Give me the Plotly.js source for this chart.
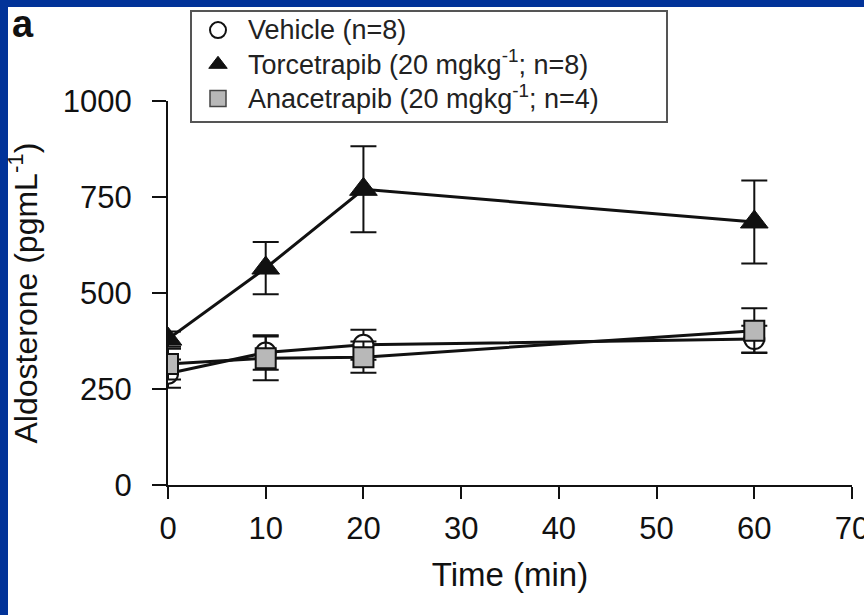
<!DOCTYPE html>
<html>
<head>
<meta charset="utf-8">
<script src="https://cdn.plot.ly/plotly-3.0.1.min.js"></script>
<style>
  html, body { margin: 0; padding: 0; background: #ffffff; width: 864px; height: 615px; overflow: hidden; }
  #chart { position: absolute; left: 0; top: 0; width: 864px; height: 615px; }
</style>
</head>
<body>
<div id="chart"></div>
<script>
// Data
const timeMin = [0, 10, 20, 60];

const vehicleName = 'Vehicle (n=8)';
const vehicleMean = [290, 345, 365, 380];
const vehicleErr  = [37, 45, 39, 35];

const torcName = 'Torcetrapib (20 mgkg<sup>-1</sup>; n=8)';
const torcMean = [380, 565, 770, 685];
const torcErr  = [20, 68, 112, 108];

const anacName = 'Anacetrapib (20 mgkg<sup>-1</sup>; n=4)';
const anacMean = [315, 330, 333, 402];
const anacErr  = [40, 57, 41, 58];

const xTicks = [0, 10, 20, 30, 40, 50, 60, 70];
const yTicks = [0, 250, 500, 750, 1000];

const FONT = 'Liberation Sans, Arial, Helvetica, sans-serif';
const INK = '#111111';
const FRAME = '#023399';

// pixel helpers for the plot area (left 168..852, top 101..485 on the page)
const px2x = p => (p - 168) / 684;
const px2y = p => (485 - p) / 384;

function errBar(arr) {
  return { type: 'data', array: arr, visible: true, color: INK, thickness: 2, width: 13 };
}
function legendLabel(s) {
  return '<span style="font-size:27px">' + s + '</span>';
}

const traces = [
  {
    x: timeMin, y: vehicleMean, mode: 'lines+markers', name: vehicleName, showlegend: false,
    line: { color: INK, width: 3 },
    marker: { symbol: 'circle', size: 20, color: '#ffffff', line: { color: INK, width: 2 } },
    error_y: errBar(vehicleErr)
  },
  {
    x: timeMin, y: anacMean, mode: 'lines+markers', name: anacName, showlegend: false,
    line: { color: INK, width: 3 },
    marker: { symbol: 'square', size: 20, color: '#b8b8b8', line: { color: INK, width: 2 } },
    error_y: errBar(anacErr)
  },
  {
    x: timeMin, y: torcMean, mode: 'lines+markers', name: torcName, showlegend: false,
    line: { color: INK, width: 3 },
    marker: { symbol: 'triangle-up', size: 24, color: INK, line: { color: INK, width: 1 } },
    error_y: errBar(torcErr)
  },
  // legend-only entries (markers only, as in the reference legend)
  {
    x: [null], y: [null], mode: 'markers', name: legendLabel(vehicleName),
    marker: { symbol: 'circle', size: 16, color: '#ffffff', line: { color: INK, width: 2 } }
  },
  {
    x: [null], y: [null], mode: 'markers', name: legendLabel(torcName),
    marker: { symbol: 'triangle-up', size: 19, color: INK, line: { color: INK, width: 1 } }
  },
  {
    x: [null], y: [null], mode: 'markers', name: legendLabel(anacName),
    marker: { symbol: 'square', size: 16, color: '#b8b8b8', line: { color: '#444', width: 1.5 } }
  }
];

const layout = {
  width: 864, height: 615,
  margin: { l: 168, r: 12, t: 101, b: 130, autoexpand: false },
  paper_bgcolor: '#ffffff', plot_bgcolor: '#ffffff',
  font: { family: FONT, color: INK, size: 30 },
  showlegend: true,
  legend: {
    x: px2x(188), y: px2y(8), xanchor: 'left', yanchor: 'top',
    bgcolor: 'rgba(0,0,0,0)', borderwidth: 0,
    font: { family: FONT, size: 24, color: '#222' },
    traceorder: 'normal', itemwidth: 50
  },
  shapes: [
    // blue slide frame (left and top strips)
    {
      type: 'rect', xref: 'paper', yref: 'paper', layer: 'below',
      x0: px2x(0), x1: px2x(8), y0: px2y(615), y1: px2y(0),
      line: { width: 0 }, fillcolor: FRAME
    },
    {
      type: 'rect', xref: 'paper', yref: 'paper', layer: 'below',
      x0: px2x(0), x1: px2x(864), y0: px2y(7), y1: px2y(0),
      line: { width: 0 }, fillcolor: FRAME
    },
    // legend box
    {
      type: 'rect', xref: 'paper', yref: 'paper', layer: 'below',
      x0: px2x(191), x1: px2x(667), y0: px2y(11), y1: px2y(122),
      line: { color: '#555555', width: 2 }, fillcolor: '#ffffff'
    }
  ],
  xaxis: {
    range: [0, 70], tickvals: xTicks, ticktext: xTicks.map(String),
    showgrid: false, zeroline: false, showline: true, linecolor: INK, linewidth: 2,
    ticks: 'outside', ticklen: 12, tickwidth: 2, tickcolor: INK,
    tickfont: { family: FONT, size: 31, color: INK }, ticklabelstandoff: 3,
    ticklabeloverflow: 'allow',
    title: { text: 'Time (min)', font: { family: FONT, size: 33, color: INK }, standoff: 18 },
    fixedrange: true, automargin: false
  },
  yaxis: {
    range: [0, 1000], tickvals: yTicks, ticktext: yTicks.map(String),
    showgrid: false, zeroline: false, showline: true, linecolor: INK, linewidth: 2,
    ticks: 'outside', ticklen: 14, tickwidth: 2, tickcolor: INK,
    tickfont: { family: FONT, size: 31, color: INK }, ticklabelstandoff: 14,
    title: { text: 'Aldosterone (pgmL<sup>-1</sup>)', font: { family: FONT, size: 32, color: INK }, standoff: 16 },
    fixedrange: true, automargin: false
  },
  annotations: [
    {
      text: '<b>a</b>', xref: 'paper', yref: 'paper',
      x: px2x(10), y: px2y(24), xanchor: 'left', yanchor: 'middle',
      showarrow: false, font: { family: FONT, size: 38, color: '#111' }
    }
  ]
};

Plotly.newPlot('chart', traces, layout, { displayModeBar: false, staticPlot: true });
</script>
</body>
</html>
